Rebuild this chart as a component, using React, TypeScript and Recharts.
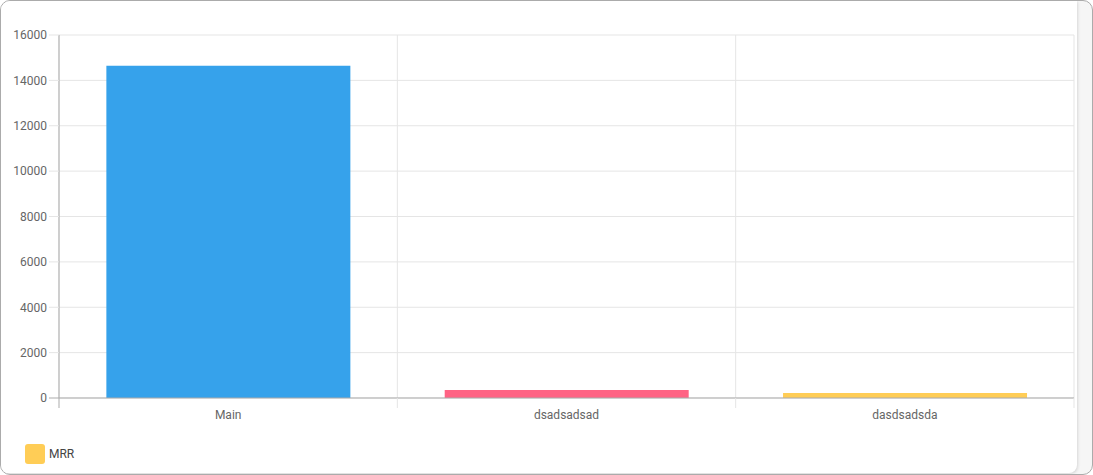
import { Bar, BarChart, CartesianGrid, Cell, XAxis, YAxis } from 'recharts'

const categories = ['Main', 'dsadsadsad', 'dasdsadsda']
const mrrValues = [14650, 350, 220]
const barColors = ['#36A2EB', '#FF6384', '#FFCD56']
const yTicks = [0, 2000, 4000, 6000, 8000, 10000, 12000, 14000, 16000]
const seriesName = 'MRR'

const data = categories.map((name, i) => ({ name, mrr: mrrValues[i] }))

const GRID = '#e5e5e5'
const ZERO = '#ababab'
const TICK_SIZE = 10
const TICK_MARGIN = 2
const labelStyle = { fill: '#666', fontSize: 12, fontFamily: 'Roboto, sans-serif' }

// vertical grid lines sit on the category boundaries, not the centres
const boundaryLines = ({ offset }: any) =>
  categories.map((_, i) => i).concat(categories.length)
    .map((i) => offset.left + (i * offset.width) / categories.length)

// x label plus the small tick marks at the category boundaries
const CategoryTick = (props: any) => {
  const { x, y, payload, width, visibleTicksCount, index } = props
  const half = width / visibleTicksCount / 2
  const top = y - TICK_SIZE - TICK_MARGIN
  return (
    <g>
      <line x1={x - half} x2={x - half} y1={top} y2={top + TICK_SIZE}
        stroke={index === 0 ? ZERO : GRID} />
      {index === visibleTicksCount - 1 && (
        <line x1={x + half} x2={x + half} y1={top} y2={top + TICK_SIZE} stroke={GRID} />
      )}
      <text x={x} y={y} dy="0.71em" textAnchor="middle" {...labelStyle}>
        {payload.value}
      </text>
    </g>
  )
}

const ValueTick = (props: any) => {
  const { x, y, payload } = props
  const right = x + TICK_MARGIN + TICK_SIZE
  return (
    <g>
      <line x1={right - TICK_SIZE} x2={right} y1={y} y2={y}
        stroke={payload.value === 0 ? ZERO : GRID} />
      <text x={x} y={y} dy="0.355em" textAnchor="end" {...labelStyle}>
        {payload.value}
      </text>
    </g>
  )
}

export default function App() {
  return (
    <div
      style={{
        position: 'absolute',
        left: 0,
        top: 0,
        width: 1093,
        height: 475,
        boxSizing: 'border-box',
        border: '1px solid #ababab',
        borderRadius: 10,
        background: '#f6f6f6',
        overflow: 'hidden',
      }}
    >
      <div
        style={{
          position: 'absolute',
          left: 0,
          top: 0,
          width: 1076,
          height: 472,
          background: '#fff',
          borderRadius: '0 0 8px 0',
          boxShadow: '1px 1px 3px rgba(0,0,0,0.12)',
        }}
      >
        <BarChart
          width={1076}
          height={440}
          data={data}
          margin={{ top: 34, right: 3, bottom: 14, left: 0 }}
          barCategoryGap="14%"
        >
          <CartesianGrid stroke={GRID} verticalCoordinatesGenerator={boundaryLines} />
          <XAxis
            dataKey="name"
            height={29}
            interval={0}
            tickSize={TICK_SIZE}
            tickMargin={TICK_MARGIN}
            tickLine={false}
            axisLine={{ stroke: ZERO }}
            tick={<CategoryTick />}
          />
          <YAxis
            width={58}
            domain={[0, 16000]}
            ticks={yTicks}
            interval={0}
            tickSize={TICK_SIZE}
            tickMargin={TICK_MARGIN}
            tickLine={false}
            axisLine={{ stroke: ZERO }}
            tick={<ValueTick />}
          />
          <Bar dataKey="mrr" name={seriesName} isAnimationActive={false}>
            {data.map((d, i) => (
              <Cell key={d.name} fill={barColors[i]} />
            ))}
          </Bar>
        </BarChart>
        <div
          style={{
            position: 'absolute',
            left: 24,
            top: 443,
            display: 'flex',
            alignItems: 'center',
            fontFamily: 'Roboto, sans-serif',
            fontSize: 12,
            color: '#444',
          }}
        >
          <span
            style={{
              display: 'inline-block',
              width: 20,
              height: 20,
              borderRadius: 3,
              background: barColors[2],
              marginRight: 4,
            }}
          />
          {seriesName}
        </div>
      </div>
    </div>
  )
}
